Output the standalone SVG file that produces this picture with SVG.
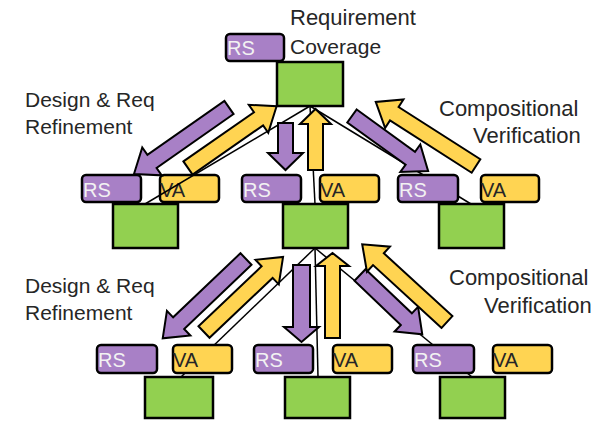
<svg xmlns="http://www.w3.org/2000/svg" width="608" height="421" viewBox="0 0 608 421">
<style>
.rs{fill:#a880c6;stroke:#000;stroke-width:2.5}
.va{fill:#ffd452;stroke:#000;stroke-width:2.5}
.gr{fill:#92d050;stroke:#000;stroke-width:2.5}
.ap{fill:#a880c6;stroke:#000;stroke-width:2;stroke-linejoin:miter}
.ay{fill:#ffd452;stroke:#000;stroke-width:2;stroke-linejoin:miter}
.ln{stroke:#000;stroke-width:1.5;fill:none}
.lbl{font-family:"Liberation Sans",Arial,sans-serif;font-size:21px;fill:#262626}
.big{font-size:22px}
.tr{font-family:"Liberation Sans",Arial,sans-serif;font-size:20px;fill:#f2f2f2}
.tv{font-family:"Liberation Sans",Arial,sans-serif;font-size:20px;fill:#262626}
</style>
<rect width="608" height="421" fill="#fff"/>
<g id="connectors">
<line class="ln" x1="310" y1="106" x2="315" y2="204"/>
<line class="ln" x1="310" y1="106" x2="471" y2="204"/>
<line class="ln" x1="315" y1="248" x2="181" y2="377"/>
<line class="ln" x1="315" y1="248" x2="318" y2="377"/>
<line class="ln" x1="315" y1="248" x2="472" y2="377"/>
</g>
<g id="top">
<rect class="rs" x="226" y="34" width="58" height="27" rx="4"/>
<text class="tr" x="227" y="55">RS</text>
<rect class="gr" x="277" y="62" width="66" height="44"/>
</g>
<g id="l1-left">
<rect class="rs" x="82" y="175" width="59" height="27" rx="4"/>
<text class="tr" x="83" y="197">RS</text>
<rect class="va" x="160" y="175" width="59" height="27" rx="4"/>
<text class="tv" x="160" y="197">VA</text>
<rect class="gr" x="113" y="204" width="65" height="44"/>
</g>
<g id="l1-mid">
<rect class="rs" x="242" y="175" width="59" height="27" rx="4"/>
<text class="tr" x="243" y="197">RS</text>
<rect class="va" x="320" y="175" width="59" height="27" rx="4"/>
<text class="tv" x="320" y="197">VA</text>
<rect class="gr" x="283" y="204" width="65" height="44"/>
</g>
<g id="l1-right">
<rect class="rs" x="398" y="175" width="60" height="27" rx="4"/>
<text class="tr" x="399" y="197">RS</text>
<rect class="va" x="481" y="175" width="58" height="27" rx="4"/>
<text class="tv" x="481" y="197">VA</text>
<rect class="gr" x="439" y="204" width="65" height="44"/>
</g>
<g id="l2-left">
<rect class="rs" x="97" y="345" width="60" height="28" rx="4"/>
<text class="tr" x="98" y="367">RS</text>
<rect class="va" x="173" y="345" width="59" height="28" rx="4"/>
<text class="tv" x="173" y="367">VA</text>
<rect class="gr" x="145" y="377" width="68" height="41"/>
</g>
<g id="l2-mid">
<rect class="rs" x="254" y="345" width="59" height="28" rx="4"/>
<text class="tr" x="255" y="367">RS</text>
<rect class="va" x="333" y="345" width="59" height="28" rx="4"/>
<text class="tv" x="333" y="367">VA</text>
<rect class="gr" x="285" y="377" width="65" height="41"/>
</g>
<g id="l2-right">
<rect class="rs" x="413" y="345" width="61" height="28" rx="4"/>
<text class="tr" x="414" y="367">RS</text>
<rect class="va" x="493" y="345" width="59" height="28" rx="4"/>
<text class="tv" x="493" y="367">VA</text>
<rect class="gr" x="440" y="377" width="65" height="41"/>
</g>
<g id="connector-top-left">
<line class="ln" x1="310" y1="106" x2="145" y2="204"/>
</g>
<g id="arrows">
<path class="ap" transform="translate(229,107.5) rotate(145)" d="M0,-8 H94 V-17 L116,0 L94,17 V8 H0Z"/>
<path class="ay" transform="translate(188,168) rotate(-34.9)" d="M0,-8 H86 V-17 L108,0 L86,17 V8 H0Z"/>
<polygon class="ap" points="278,123 293,123 293,153 303,153 285.5,170 268,153 278,153"/>
<polygon class="ay" points="308,170 323,170 323,124 331,124 315.5,109 300,124 308,124"/>
<path class="ap" transform="translate(352,116) rotate(35.9)" d="M0,-8 H72 V-17 L94,0 L72,17 V8 H0Z"/>
<path class="ay" transform="translate(476,166) rotate(212.6)" d="M0,-8 H97 V-17 L119,0 L97,17 V8 H0Z"/>
<path class="ap" transform="translate(246,259) rotate(136.4)" d="M0,-8 H93 V-17 L115,0 L93,17 V8 H0Z"/>
<path class="ay" transform="translate(204,332) rotate(-43.5)" d="M0,-8 H87 V-17 L109,0 L87,17 V8 H0Z"/>
<polygon class="ap" points="293,265 310,265 310,327 319,327 301.5,342 284,327 293,327"/>
<polygon class="ay" points="325,338 340,338 340,266 349,266 332.5,253 316,266 325,266"/>
<path class="ap" transform="translate(360,275) rotate(43.6)" d="M0,-8 H64 V-17 L86,0 L64,17 V8 H0Z"/>
<path class="ay" transform="translate(447,322) rotate(222.5)" d="M0,-8 H93 V-17 L115,0 L93,17 V8 H0Z"/>
</g>
<g id="labels">
<text class="lbl big" x="290" y="25">Requirement</text>
<text class="lbl" x="290" y="54">Coverage</text>
<text class="lbl" x="25" y="107">Design &amp; Req</text>
<text class="lbl" x="25" y="134">Refinement</text>
<text class="lbl big" x="439" y="116">Compositional</text>
<text class="lbl big" x="473" y="143">Verification</text>
<text class="lbl" x="25" y="293">Design &amp; Req</text>
<text class="lbl" x="25" y="320">Refinement</text>
<text class="lbl big" x="449" y="285">Compositional</text>
<text class="lbl big" x="484" y="313">Verification</text>
</g>
</svg>
